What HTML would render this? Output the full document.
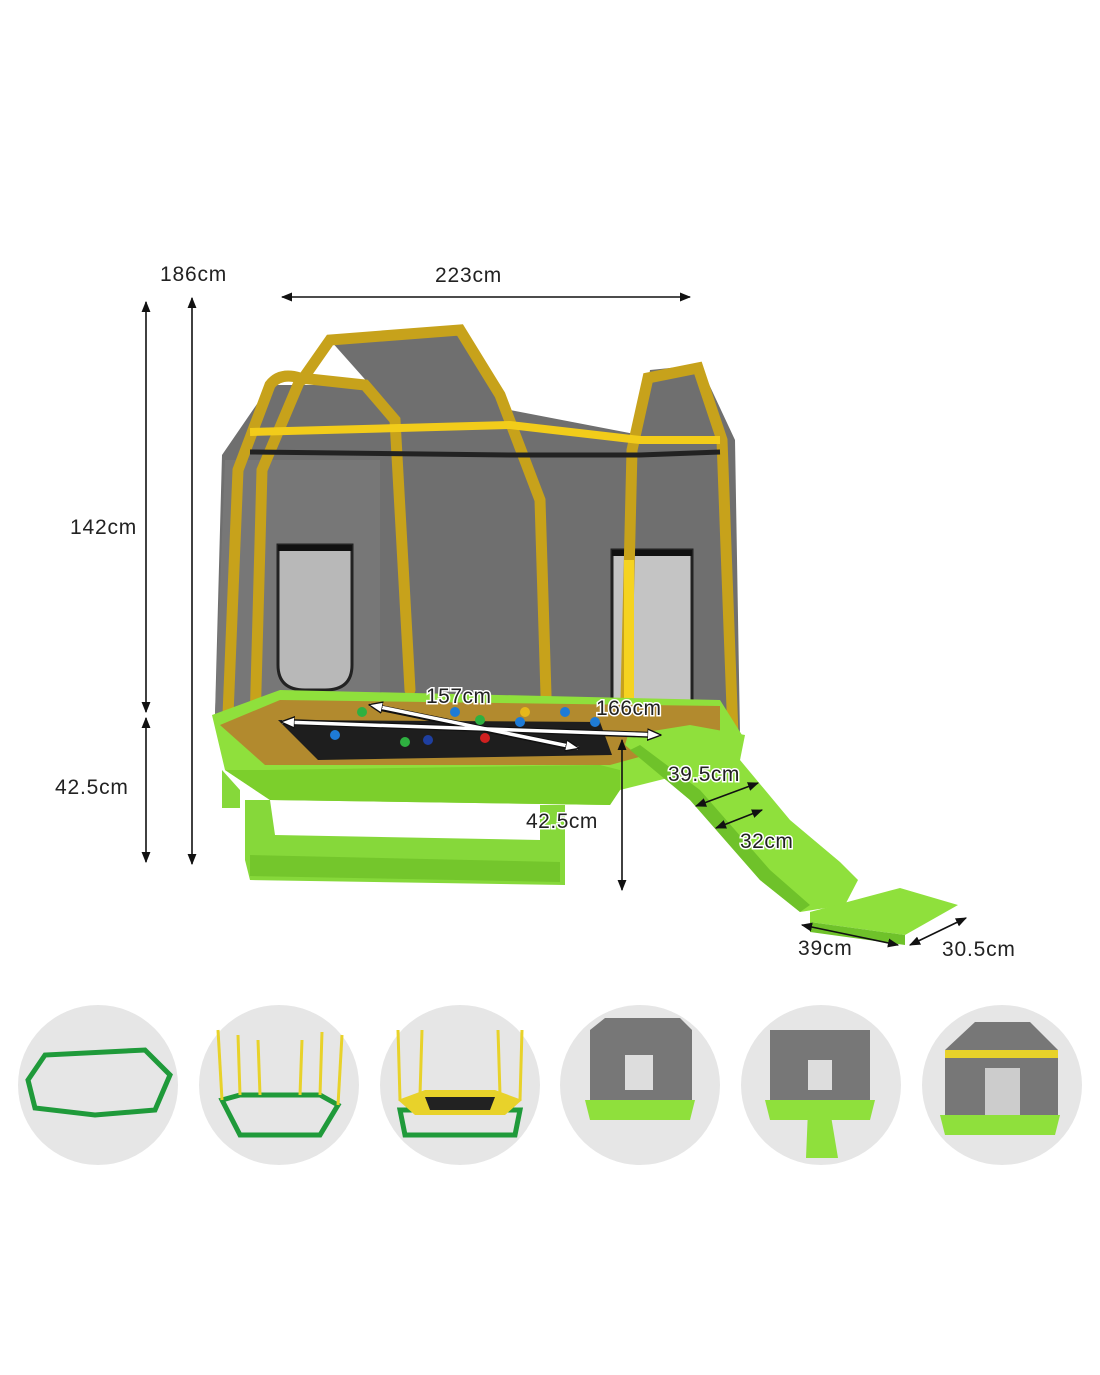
<!DOCTYPE html>
<html><head><meta charset="utf-8"><style>
html,body{margin:0;padding:0;background:#fff;}
svg{display:block;font-family:"Liberation Sans",sans-serif;}
</style></head><body>
<svg width="1100" height="1375" viewBox="0 0 1100 1375" xmlns="http://www.w3.org/2000/svg">
<defs>
<marker id="a" viewBox="0 0 10 10" refX="9" refY="5" markerWidth="7" markerHeight="7" orient="auto-start-reverse"><path d="M0,1 L10,5 L0,9 z" fill="#111"/></marker>
<marker id="w" viewBox="0 0 10 10" refX="9" refY="5" markerWidth="4" markerHeight="4" orient="auto-start-reverse"><path d="M0,1 L10,5 L0,9 z" fill="#fff" stroke="#111" stroke-width="1"/></marker>
</defs>
<rect width="1100" height="1375" fill="#fff"/>
<path d="M222,455 L270,385 L370,385 L330,340 L460,330 L510,410 L640,435 L650,370 L700,365 L735,440 L740,735 L620,740 L215,715 Z" fill="#6f6f6f"/>
<path d="M225,460 L215,715 L380,700 L380,460 Z" fill="#777"/>
<path d="M278,545 L352,545 L352,665 Q352,690 325,690 L305,690 Q278,690 278,665 Z" fill="#b8b8b8" stroke="#222" stroke-width="3"/>
<rect x="612" y="550" width="80" height="160" fill="#c4c4c4" stroke="#222" stroke-width="3"/>
<line x1="278" y1="548" x2="352" y2="548" stroke="#111" stroke-width="6"/>
<line x1="612" y1="553" x2="692" y2="553" stroke="#111" stroke-width="6"/>
<g fill="none" stroke="#c7a21b" stroke-width="11" stroke-linecap="round">
<path d="M228,715 L238,470 L270,385 Q280,372 300,378 L365,385 L395,420 L410,690"/>
<path d="M255,725 L262,470 L300,380"/>
<path d="M302,380 L330,340 L460,330 L500,395 L540,500 L548,760"/>
<path d="M625,740 L632,450 L648,378 L698,368 L722,440 L733,735"/>
</g>
<path d="M250,432 L510,425 L640,440 L720,440" fill="none" stroke="#f2cc1a" stroke-width="8"/>
<path d="M250,452 L510,455 L640,455 L720,452" fill="none" stroke="#222" stroke-width="5"/>
<rect x="624" y="560" width="10" height="180" fill="#f5d320"/>
<path d="M212,715 L280,690 L720,700 L742,735 L740,760 L620,790 L610,805 L270,800 L225,770 Z" fill="#8fe03c"/>
<path d="M220,725 L280,700 L720,706 L720,735 L610,765 L265,765 Z" fill="#b28a2e"/>
<path d="M278,720 L600,722 L612,755 L318,760 Z" fill="#1e1e1e"/>
<path d="M225,770 L270,800 L610,805 L620,790 L620,770 L600,765 L265,770 Z" fill="#7ccf2c"/>
<g>
<circle cx="335" cy="735" r="5" fill="#1e7bd6"/><circle cx="362" cy="712" r="5" fill="#2eb040"/><circle cx="405" cy="742" r="5" fill="#2eb040"/><circle cx="455" cy="712" r="5" fill="#1e7bd6"/><circle cx="480" cy="720" r="5" fill="#2eb040"/><circle cx="525" cy="712" r="5" fill="#e6b81a"/><circle cx="565" cy="712" r="5" fill="#1e7bd6"/><circle cx="485" cy="738" r="5" fill="#d02020"/><circle cx="428" cy="740" r="5" fill="#1e3fa0"/><circle cx="520" cy="722" r="5" fill="#1e7bd6"/><circle cx="595" cy="722" r="5" fill="#1e7bd6"/>
</g>
<path d="M222,770 L222,808 L240,808 L240,790 Z" fill="#86d83a"/>
<path d="M245,800 L270,800 L275,835 L540,840 L540,805 L565,805 L565,885 L250,880 L245,860 Z" fill="#86d83a"/>
<path d="M250,855 L560,862 L560,882 L250,876 Z" fill="#74c62c"/>
<path d="M628,735 L690,725 L745,735 L740,760 L790,820 L840,862 L858,880 L845,905 L800,912 L760,880 L690,800 L625,745 Z" fill="#8fe03c"/>
<path d="M630,750 L690,800 L760,880 L800,912 L810,905 L770,870 L700,790 L640,745 Z" fill="#6fc22a"/>
<path d="M810,912 L900,888 L958,905 L905,935 L810,922 Z" fill="#8fe03c"/>
<path d="M810,922 L905,935 L905,945 L810,932 Z" fill="#6fc22a"/>
<g stroke="#111" stroke-width="1.6" fill="none">
<line x1="282" y1="297" x2="690" y2="297" marker-start="url(#a)" marker-end="url(#a)"/>
<line x1="146" y1="302" x2="146" y2="712" marker-start="url(#a)" marker-end="url(#a)"/>
<line x1="146" y1="718" x2="146" y2="862" marker-start="url(#a)" marker-end="url(#a)"/>
<line x1="192" y1="298" x2="192" y2="864" marker-start="url(#a)" marker-end="url(#a)"/>
<line x1="622" y1="740" x2="622" y2="890" marker-start="url(#a)" marker-end="url(#a)"/>
<line x1="802" y1="925" x2="898" y2="945" marker-start="url(#a)" marker-end="url(#a)"/>
<line x1="910" y1="945" x2="966" y2="918" marker-start="url(#a)" marker-end="url(#a)"/>
<line x1="696" y1="806" x2="758" y2="783" marker-start="url(#a)" marker-end="url(#a)"/>
<line x1="716" y1="828" x2="762" y2="810" marker-start="url(#a)" marker-end="url(#a)"/>
</g>
<g stroke="#111" stroke-width="6" fill="none">
<line x1="288" y1="722" x2="655" y2="735"/>
<line x1="376" y1="707" x2="572" y2="747"/>
</g>
<g stroke="#fff" stroke-width="3.5" fill="none">
<line x1="282" y1="722" x2="660" y2="735" marker-start="url(#w)" marker-end="url(#w)"/>
<line x1="370" y1="705" x2="578" y2="748" marker-start="url(#w)" marker-end="url(#w)"/>
</g>
<g font-size="21" fill="#222" letter-spacing="0.8">
<text x="160" y="281">186cm</text>
<text x="435" y="282">223cm</text>
<text x="70" y="534">142cm</text>
<text x="55" y="794">42.5cm</text>
<text x="798" y="955">39cm</text>
<text x="942" y="956">30.5cm</text>
</g>
<g font-size="21" fill="#222" stroke="#fff" stroke-width="3" paint-order="stroke" letter-spacing="0.5">
<text x="426" y="703">157cm</text>
<text x="596" y="715">166cm</text>
<text x="526" y="828">42.5cm</text>
<text x="668" y="781">39.5cm</text>
<text x="740" y="848">32cm</text>
</g>
<g fill="#e6e6e6">
<circle cx="98" cy="1085" r="80"/><circle cx="279" cy="1085" r="80"/><circle cx="460" cy="1085" r="80"/><circle cx="640" cy="1085" r="80"/><circle cx="821" cy="1085" r="80"/><circle cx="1002" cy="1085" r="80"/>
</g>
<g fill="none" stroke-width="5">
<path d="M28,1080 L45,1055 L145,1050 L170,1075 L155,1110 L95,1115 L35,1108 Z" stroke="#1f9a3a"/>
<path d="M222,1100 L240,1095 L320,1095 L338,1105 L320,1135 L240,1135 Z" stroke="#1f9a3a"/>
<g stroke="#e8d22a" stroke-width="3"><line x1="222" y1="1100" x2="218" y2="1030"/><line x1="240" y1="1095" x2="238" y2="1035"/><line x1="260" y1="1095" x2="258" y2="1040"/><line x1="300" y1="1095" x2="302" y2="1040"/><line x1="320" y1="1095" x2="322" y2="1032"/><line x1="338" y1="1105" x2="342" y2="1035"/></g>
<path d="M400,1110 L520,1110 L515,1135 L405,1135 Z" stroke="#1f9a3a"/>
<g stroke="#e8d22a" stroke-width="3"><line x1="400" y1="1100" x2="398" y2="1030"/><line x1="420" y1="1095" x2="422" y2="1030"/><line x1="500" y1="1095" x2="498" y2="1030"/><line x1="520" y1="1100" x2="522" y2="1030"/></g>
</g>
<path d="M398,1100 L425,1090 L495,1090 L522,1100 L505,1115 L415,1115 Z" fill="#e8d22a"/>
<path d="M425,1097 L495,1097 L490,1110 L430,1110 Z" fill="#222"/>
<g>
<path d="M590,1030 L605,1018 L680,1018 L692,1030 L692,1100 L590,1100 Z" fill="#777"/>
<rect x="625" y="1055" width="28" height="35" fill="#ddd"/>
<path d="M585,1100 L695,1100 L690,1120 L590,1120 Z" fill="#8fe03c"/>
<rect x="770" y="1030" width="100" height="70" fill="#777"/>
<rect x="808" y="1060" width="24" height="30" fill="#ddd"/>
<path d="M765,1100 L875,1100 L870,1120 L770,1120 Z" fill="#8fe03c"/>
<path d="M808,1110 L830,1110 L838,1158 L806,1158 Z" fill="#8fe03c"/>
<path d="M945,1050 L975,1022 L1030,1022 L1058,1050 L1058,1120 L945,1120 Z" fill="#777"/>
<path d="M945,1050 L1058,1050 L1058,1058 L945,1058 Z" fill="#e8d22a"/>
<rect x="985" y="1068" width="35" height="50" fill="#ccc"/>
<path d="M940,1115 L1060,1115 L1055,1135 L945,1135 Z" fill="#8fe03c"/>
</g>
</svg>
</body></html>
